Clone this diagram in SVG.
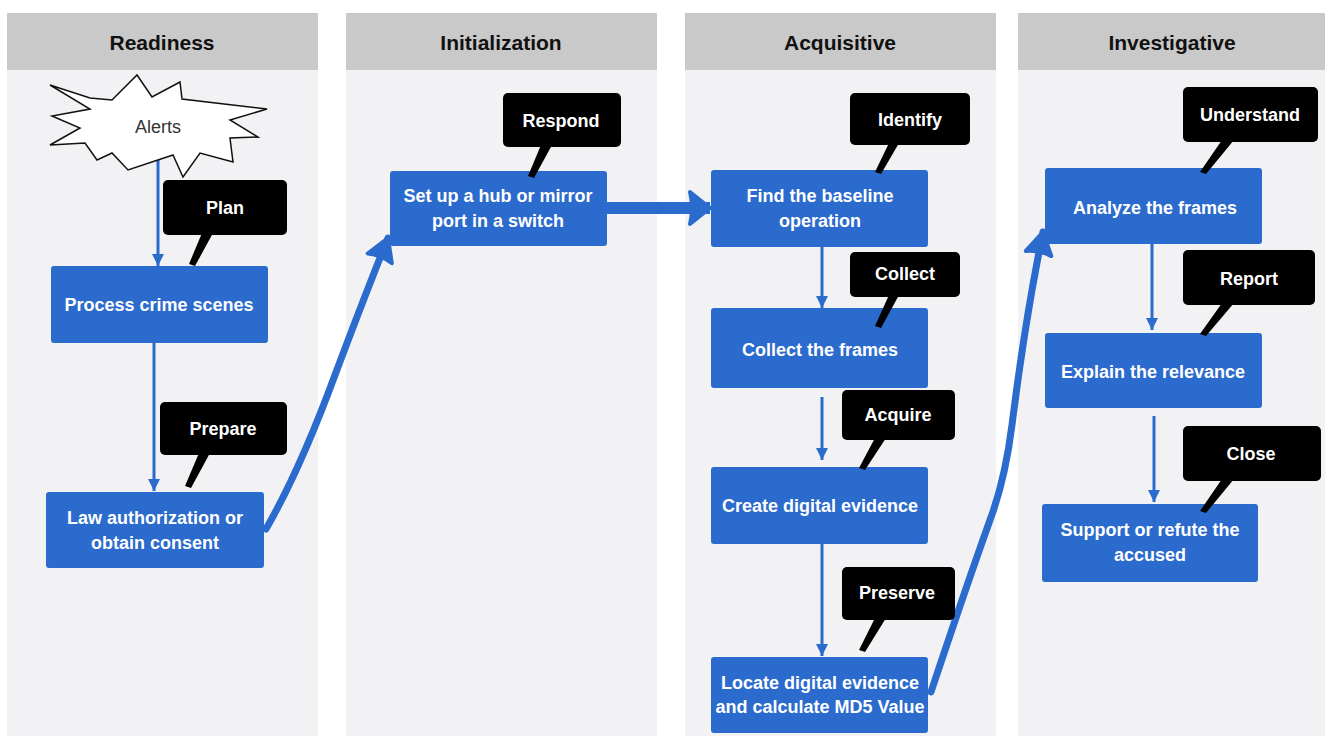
<svg xmlns="http://www.w3.org/2000/svg" width="1327" height="736" viewBox="0 0 1327 736">
<style>
.hdr{fill:#c9c9c9}
.body{fill:#f2f2f4}
.ht{font-family:"Liberation Sans",Arial,sans-serif;font-weight:bold;font-size:21px;fill:#111;text-anchor:middle}
.box{fill:#2b6bcd}
.bt{font-family:"Liberation Sans",Arial,sans-serif;font-weight:bold;font-size:18px;fill:#fff;text-anchor:middle}
.co{fill:#000}
.ct{font-family:"Liberation Sans",Arial,sans-serif;font-weight:bold;font-size:18px;fill:#fff;text-anchor:middle}
.thin{stroke:#2b6bcd;stroke-width:3;fill:none}
.thick{stroke:#2b6bcd;stroke-width:7;fill:none;stroke-linecap:round;stroke-linejoin:round}
</style>
<defs>
<marker id="tri" markerUnits="userSpaceOnUse" markerWidth="14" markerHeight="14" refX="12" refY="7" orient="auto">
<path d="M0,1 L12,7 L0,13 Z" fill="#2b6bcd"/>
</marker>
<marker id="big" markerUnits="userSpaceOnUse" markerWidth="28" markerHeight="32" refX="24" refY="16" orient="auto">
<path d="M2,3 Q6,16 2,29 L24,16 Z" fill="#2b6bcd" stroke="#2b6bcd" stroke-width="4" stroke-linejoin="round"/>
</marker>
<marker id="huge" markerUnits="userSpaceOnUse" markerWidth="26" markerHeight="38" refX="22" refY="19" orient="auto">
<path d="M2,3 Q6,19 2,35 L22,19 Z" fill="#2b6bcd" stroke="#2b6bcd" stroke-width="4" stroke-linejoin="round"/>
</marker>
</defs>

<g id="lanes">
<g id="lane-readiness">
<rect class="body" x="7" y="70" width="311" height="666"/>
<rect class="hdr" x="7" y="13" width="311" height="57"/>
<text class="ht" x="162" y="50">Readiness</text>
</g>
<g id="lane-initialization">
<rect class="body" x="346" y="70" width="311" height="666"/>
<rect class="hdr" x="346" y="13" width="311" height="57"/>
<text class="ht" x="501" y="50">Initialization</text>
</g>
<g id="lane-acquisitive">
<rect class="body" x="685" y="70" width="311" height="666"/>
<rect class="hdr" x="685" y="13" width="311" height="57"/>
<text class="ht" x="840" y="50">Acquisitive</text>
</g>
<g id="lane-investigative">
<rect class="body" x="1018" y="70" width="307" height="666"/>
<rect class="hdr" x="1018" y="13" width="307" height="57"/>
<text class="ht" x="1172" y="50">Investigative</text>
</g>
</g>

<g id="connectors">
<line class="thin" x1="158" y1="150" x2="158" y2="266" marker-end="url(#tri)"/>
<line class="thin" x1="154" y1="343" x2="154" y2="491" marker-end="url(#tri)"/>
<path class="thick" d="M266,529 Q300,470 335,375 Q365,295 388,238" marker-end="url(#big)"/>
<line stroke="#2b6bcd" stroke-width="12" x1="607" y1="208" x2="710" y2="208" marker-end="url(#huge)"/>
<line class="thin" x1="822" y1="247" x2="822" y2="308" marker-end="url(#tri)"/>
<line class="thin" x1="822" y1="397" x2="822" y2="460" marker-end="url(#tri)"/>
<line class="thin" x1="822" y1="544" x2="822" y2="656" marker-end="url(#tri)"/>
<path class="thick" d="M931,692 Q965,590 990,520 Q1005,480 1012,425 Q1025,320 1043,232" marker-end="url(#big)"/>
<line class="thin" x1="1152" y1="244" x2="1152" y2="330" marker-end="url(#tri)"/>
<line class="thin" x1="1154" y1="416" x2="1154" y2="502" marker-end="url(#tri)"/>
</g>

<g id="alerts">
<polygon points="50,85 90,98 112,100 137,75 152,97 180,82 182,99 267,109 230,120 258,137 230,138 233,162 200,153 183,177 173,155 128,170 112,153 97,160 85,143 50,145 80,128 52,116 90,109" fill="#fff" stroke="#111" stroke-width="1.5" stroke-linejoin="miter"/>
<text x="158" y="133" font-family="Liberation Sans,Arial,sans-serif" font-size="18" fill="#333" text-anchor="middle">Alerts</text>
</g>

<g id="process-crime-scenes">
<rect class="box" x="51" y="266" width="217" height="77" rx="3"/>
<text class="bt" x="159" y="311">Process crime scenes</text>
</g>
<g id="law-authorization">
<rect class="box" x="46" y="492" width="218" height="76" rx="3"/>
<text class="bt" x="155" y="524">Law authorization or</text>
<text class="bt" x="155" y="549">obtain consent</text>
</g>
<g id="setup-hub">
<rect class="box" x="390" y="171" width="217" height="75" rx="3"/>
<text class="bt" x="498" y="202">Set up a hub or mirror</text>
<text class="bt" x="498" y="227">port in a switch</text>
</g>
<g id="find-baseline">
<rect class="box" x="711" y="170" width="217" height="77" rx="3"/>
<text class="bt" x="820" y="202">Find the baseline</text>
<text class="bt" x="820" y="227">operation</text>
</g>
<g id="collect-frames">
<rect class="box" x="711" y="308" width="217" height="80" rx="3"/>
<text class="bt" x="820" y="356">Collect the frames</text>
</g>
<g id="create-evidence">
<rect class="box" x="711" y="467" width="217" height="77" rx="3"/>
<text class="bt" x="820" y="512">Create digital evidence</text>
</g>
<g id="locate-evidence">
<rect class="box" x="711" y="657" width="217" height="76" rx="3"/>
<text class="bt" x="820" y="689">Locate digital evidence</text>
<text class="bt" x="820" y="713">and calculate MD5 Value</text>
</g>
<g id="analyze-frames">
<rect class="box" x="1045" y="168" width="217" height="76" rx="3"/>
<text class="bt" x="1155" y="214">Analyze the frames</text>
</g>
<g id="explain-relevance">
<rect class="box" x="1045" y="333" width="217" height="75" rx="3"/>
<text class="bt" x="1153" y="378">Explain the relevance</text>
</g>
<g id="support-refute">
<rect class="box" x="1042" y="504" width="216" height="78" rx="3"/>
<text class="bt" x="1150" y="536">Support or refute the</text>
<text class="bt" x="1150" y="561">accused</text>
</g>

<g id="callout-plan">
<rect class="co" x="163" y="180" width="124" height="55" rx="5"/>
<polygon class="co" points="202,233 213,233 195,266 189,264"/>
<text class="ct" x="225" y="214">Plan</text>
</g>
<g id="callout-prepare">
<rect class="co" x="160" y="402" width="127" height="53" rx="5"/>
<polygon class="co" points="199,453 210,453 191,488 185,486"/>
<text class="ct" x="223" y="435">Prepare</text>
</g>
<g id="callout-respond">
<rect class="co" x="503" y="93" width="118" height="54" rx="5"/>
<polygon class="co" points="541,145 552,145 534,178 528,176"/>
<text class="ct" x="561" y="127">Respond</text>
</g>
<g id="callout-identify">
<rect class="co" x="850" y="93" width="120" height="52" rx="5"/>
<polygon class="co" points="889,143 899,143 881,174 875,172"/>
<text class="ct" x="910" y="126">Identify</text>
</g>
<g id="callout-collect">
<rect class="co" x="850" y="252" width="110" height="45" rx="5"/>
<polygon class="co" points="889,295 899,295 881,328 875,326"/>
<text class="ct" x="905" y="280">Collect</text>
</g>
<g id="callout-acquire">
<rect class="co" x="842" y="390" width="113" height="50" rx="5"/>
<polygon class="co" points="875,438 886,438 865,470 859,468"/>
<text class="ct" x="898" y="421">Acquire</text>
</g>
<g id="callout-preserve">
<rect class="co" x="842" y="567" width="113" height="53" rx="5"/>
<polygon class="co" points="875,618 886,618 865,652 859,650"/>
<text class="ct" x="897" y="599">Preserve</text>
</g>
<g id="callout-understand">
<rect class="co" x="1183" y="87" width="135" height="55" rx="5"/>
<polygon class="co" points="1222,140 1234,140 1206,174 1200,172"/>
<text class="ct" x="1250" y="121">Understand</text>
</g>
<g id="callout-report">
<rect class="co" x="1183" y="250" width="132" height="55" rx="5"/>
<polygon class="co" points="1222,303 1234,303 1206,336 1200,334"/>
<text class="ct" x="1249" y="285">Report</text>
</g>
<g id="callout-close">
<rect class="co" x="1183" y="426" width="138" height="55" rx="5"/>
<polygon class="co" points="1222,479 1234,479 1206,513 1200,511"/>
<text class="ct" x="1251" y="460">Close</text>
</g>
</svg>
